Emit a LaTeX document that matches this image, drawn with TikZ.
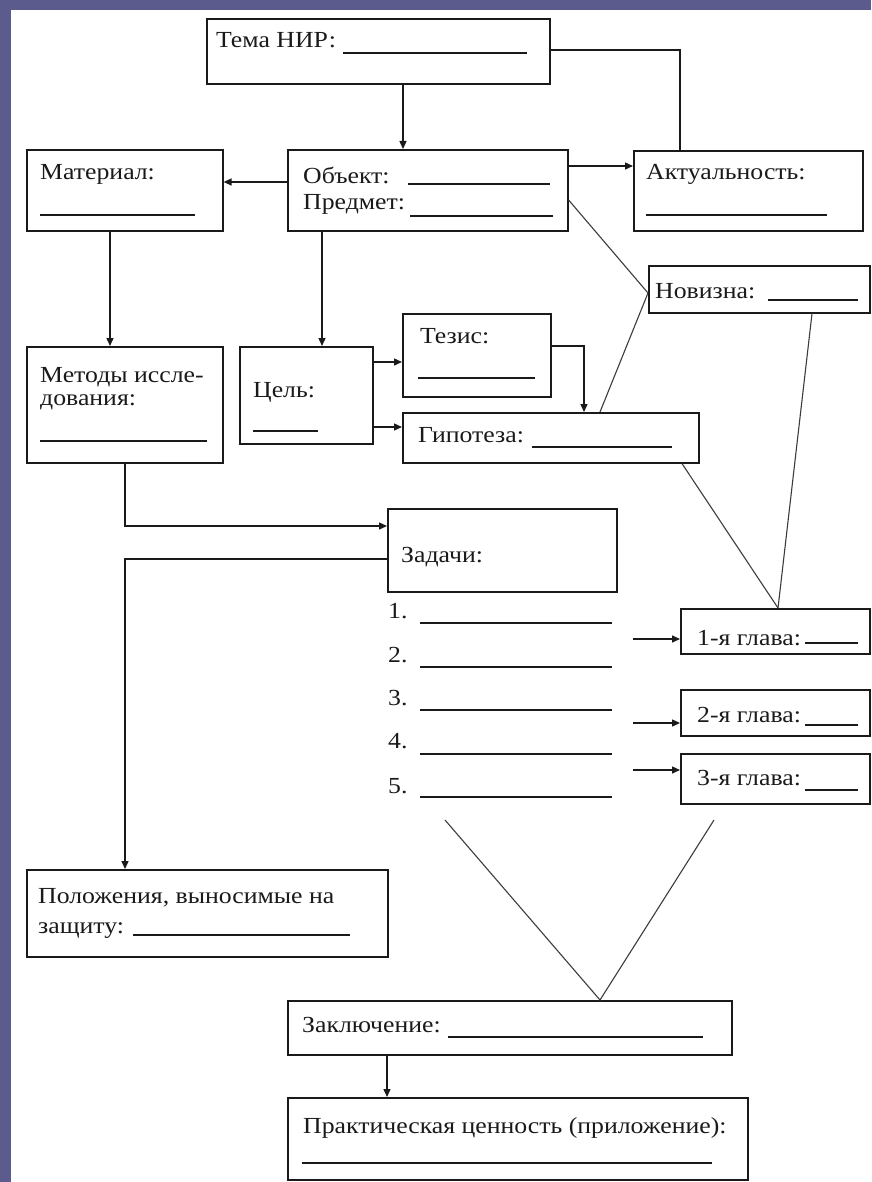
\documentclass[tikz,border=0pt]{standalone}
\usepackage{fontspec}
\setmainfont{Liberation Serif}[FakeStretch=1.12]
\usetikzlibrary{arrows.meta}
\definecolor{bgpurple}{HTML}{5B5B8E}
\definecolor{ink}{HTML}{1A1A1A}
\tikzset{
  box/.style={draw=ink, line width=1.6pt, rectangle, inner sep=0pt, anchor=north west, fill=white},
  txt/.style={anchor=base west, inner sep=0pt, text=ink, font=\fontsize{23}{27}\selectfont},
  arr/.style={draw=ink, line width=1.4pt, -{Triangle[length=8pt,width=7pt]}},
  conn/.style={draw=ink, line width=1.4pt},
  diag/.style={draw=ink!85, line width=1.1pt},
  uline/.style={draw=ink, line width=1.3pt}
}
\newcommand\mybox[5]{\node[box, minimum width={(#4-#2)*1pt}, minimum height={(#5-#3)*1pt}] (#1) at (#2,#3) {};}
\begin{document}
\begin{tikzpicture}[x=1pt,y=-1pt]
\useasboundingbox (0,0) rectangle (871,1182);
\fill[bgpurple] (0,0) rectangle (871,1182);
\fill[white] (11,10) rectangle (871,1182);

% boxes
\mybox{tema}{206}{18}{549}{83}
\mybox{obj}{287}{149}{567}{230}
\mybox{mat}{26}{149}{222}{230}
\mybox{akt}{633}{150}{862}{230}
\mybox{nov}{648}{265}{869}{312}
\mybox{cel}{239}{346}{372}{443}
\mybox{tez}{402}{313}{550}{396}
\mybox{gip}{402}{412}{698}{462}
\mybox{met}{26}{346}{222}{462}
\mybox{zad}{387}{508}{616}{591}
\mybox{g1}{680}{608}{869}{653}
\mybox{g2}{680}{689}{869}{735}
\mybox{g3}{680}{753}{869}{803}
\mybox{pol}{26}{869}{387}{956}
\mybox{zak}{287}{1000}{731}{1054}
\mybox{prak}{287}{1097}{747}{1179}

% texts
\node[txt] (ttema) at (216,48) {Тема НИР:};
\node[txt] (tobj) at (303,184) {Объект:};
\node[txt] (tpred) at (303,210) {Предмет:};
\node[txt] (tmat) at (40,180) {Материал:};
\node[txt] (takt) at (646,180) {Актуальность:};
\node[txt] (tnov) at (655,298) {Новизна:};
\node[txt] (ttez) at (420,343) {Тезис:};
\node[txt] (tcel) at (253,397) {Цель:};
\node[txt] (tgip) at (418,442) {Гипотеза:};
\node[txt] (tmet1) at (40,382) {Методы иссле-};
\node[txt] (tmet2) at (40,405) {дования:};
\node[txt] (tzad) at (401,562) {Задачи:};
\node[txt] (n1) at (388,618) {1.};
\node[txt] (n2) at (388,662) {2.};
\node[txt] (n3) at (388,705) {3.};
\node[txt] (n4) at (388,748) {4.};
\node[txt] (n5) at (388,793) {5.};
\node[txt] (tg1) at (697,645) {1-я глава:};
\node[txt] (tg2) at (697,722) {2-я глава:};
\node[txt] (tg3) at (697,785) {3-я глава:};
\node[txt] (tpol1) at (38,903) {Положения, выносимые на};
\node[txt] (tpol2) at (38,933) {защиту:};
\node[txt] (tzak) at (302,1032) {Заключение:};
\node[txt] (tprak) at (303,1133) {Практическая ценность (приложение):};

% blanks (underlines)
\draw[uline] (343,53) -- (527,53);
\draw[uline] (408,184) -- (550,184);
\draw[uline] (410,216) -- (553,216);
\draw[uline] (40,215) -- (195,215);
\draw[uline] (646,215) -- (827,215);
\draw[uline] (768,300) -- (858,300);
\draw[uline] (418,378) -- (535,378);
\draw[uline] (253,431) -- (318,431);
\draw[uline] (532,447) -- (672,447);
\draw[uline] (40,441) -- (207,441);
\foreach \yy in {623,667,710,754,797} \draw[uline] (420,\yy) -- (612,\yy);
\draw[uline] (805,643) -- (858,643);
\draw[uline] (805,725) -- (858,725);
\draw[uline] (805,790) -- (858,790);
\draw[uline] (133,935) -- (350,935);
\draw[uline] (448,1037) -- (703,1037);
\draw[uline] (302,1163) -- (712,1163);

% connectors
\draw[arr] ([xshift=197]tema.south west) -- ([xshift=116]obj.north west);
\draw[conn] ([yshift=-32]tema.north east) -| ([xshift=47]akt.north west);
\draw[arr] ([yshift=-33]obj.north west) -- ([yshift=-33]mat.north east);
\draw[arr] ([yshift=-17]obj.north east) -- ([yshift=-16]akt.north west);
\draw[diag] ([yshift=-51]obj.north east) -- ([yshift=-28]nov.north west);
\draw[diag] ([yshift=-28]nov.north west) -- ([xshift=198]gip.north west);
\draw[diag] ([xshift=164]nov.south west) -- ([xshift=98]g1.north west);
\draw[diag] ([xshift=280]gip.south west) -- ([xshift=98]g1.north west);
\draw[arr] ([yshift=-33]tez.north east) -| ([xshift=182]gip.north west);
\draw[arr] ([yshift=-16]cel.north east) -- ([yshift=-49]tez.north west);
\draw[arr] ([yshift=-81]cel.north east) -- ([yshift=-15]gip.north west);
\draw[arr] ([xshift=35]obj.south west) -- ([xshift=83]cel.north west);
\draw[arr] ([xshift=84]mat.south west) -- ([xshift=84]met.north west);
\draw[arr] ([xshift=99]met.south west) |- ([yshift=-18]zad.north west);
\draw[arr] ([yshift=-51]zad.north west) -| ([xshift=99]pol.north west);
\coordinate (a1) at (633,639);
\coordinate (a2) at (633,723);
\coordinate (a3) at (633,770);
\draw[arr] (a1) -- ([yshift=-31]g1.north west);
\draw[arr] (a2) -- ([yshift=-34]g2.north west);
\draw[arr] (a3) -- ([yshift=-17]g3.north west);
\coordinate (v1) at (445,820);
\coordinate (v2) at (714,820);
\draw[diag] (v1) -- ([xshift=313]zak.north west) -- (v2);
\draw[arr] ([xshift=100]zak.south west) -- ([xshift=100]prak.north west);
\end{tikzpicture}
\end{document}
